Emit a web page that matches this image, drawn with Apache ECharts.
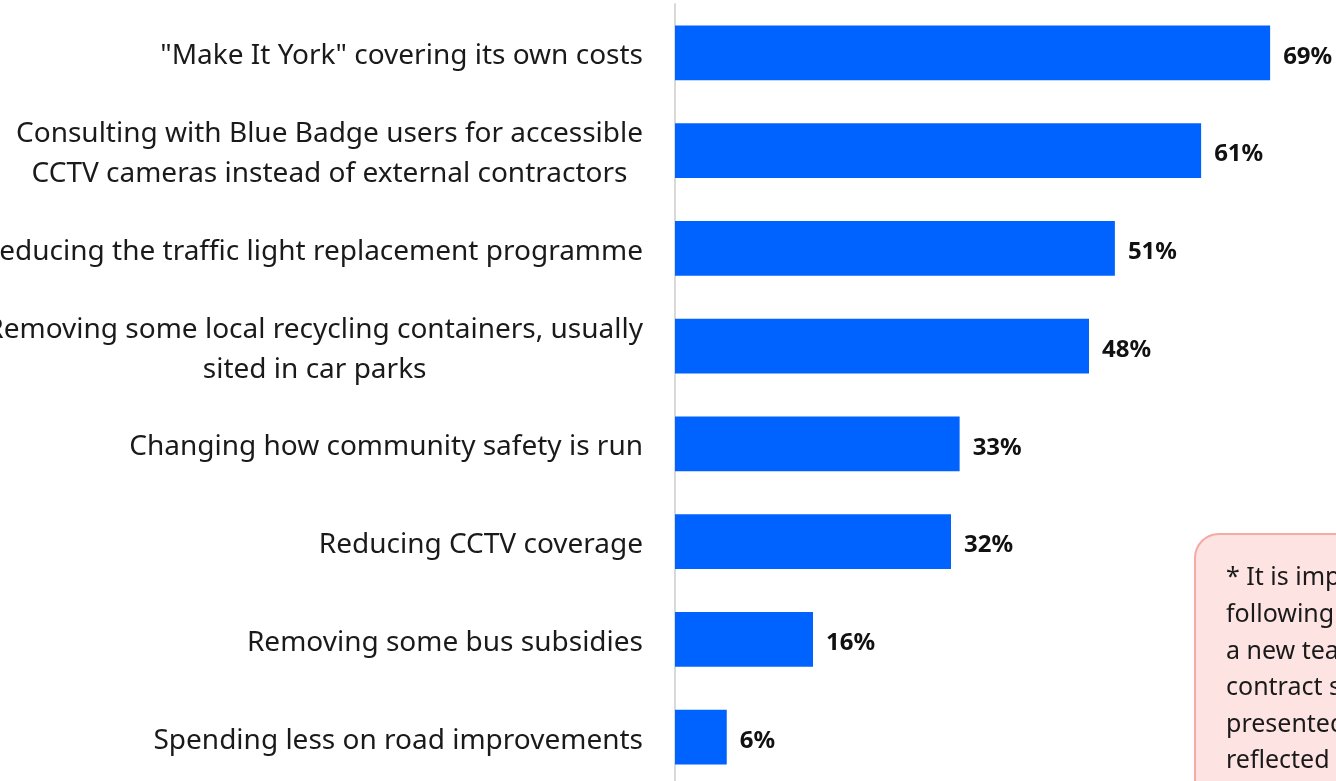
<!DOCTYPE html>
<html>
<head>
<meta charset="utf-8">
<script src="https://cdn.jsdelivr.net/npm/echarts@6/dist/echarts.min.js"></script>
<style>
  html, body { margin: 0; padding: 0; background: #ffffff; overflow: hidden; }
  #chart { width: 1400px; height: 800px; }
</style>
</head>
<body>
<div id="chart"></div>
<script>
// Savings options and the share of respondents supporting each one
const categories = [
  '"Make It York" covering its own costs',
  'Consulting with Blue Badge users for accessible\nCCTV cameras instead of external contractors',
  'Reducing the traffic light replacement programme',
  'Removing some local recycling containers, usually\nsited in car parks',
  'Changing how community safety is run',
  'Reducing CCTV coverage',
  'Removing some bus subsidies',
  'Spending less on road improvements'
];
const supportPct = [69, 61, 51, 48, 33, 32, 16, 6];

const noteLines = [
  '* It is important to note that,',
  'following the appointment of',
  'a new team, the CCTV',
  'contract savings were',
  'presented before this was',
  'reflected in the budget.'
];

const FONT = '"Noto Sans", "Open Sans", sans-serif';
const chart = echarts.init(document.getElementById('chart'));

chart.setOption({
  animation: false,
  grid: {
    left: 675, top: 4, width: 690, height: 782,
    containLabel: false,
    outerBoundsMode: 'none'
  },
  xAxis: {
    type: 'value', min: 0, max: 80,
    show: false
  },
  yAxis: {
    type: 'category',
    data: categories,
    inverse: true,
    axisLine: { show: true, lineStyle: { color: '#d9d9d9', width: 2 } },
    axisTick: { show: false },
    axisLabel: {
      margin: 32,
      padding: [7, 0, 0, 0],
      fontFamily: FONT,
      fontSize: 28,
      color: '#1a1a1a',
      lineHeight: 40,
      formatter: v => v.split('\n').map(s => '{c|' + s + '}').join('\n'),
      rich: { c: { align: 'center', fontFamily: FONT, fontSize: 28, lineHeight: 40, color: '#1a1a1a' } }
    }
  },
  series: [{
    type: 'bar',
    data: supportPct,
    barCategoryGap: '44%',
    itemStyle: { color: '#0062ff' },
    label: {
      show: true,
      position: 'right',
      distance: 13,
      offset: [0, 4],
      formatter: '{c}%',
      fontFamily: FONT,
      fontWeight: 'bold',
      fontSize: 24,
      color: '#111111'
    }
  }],
  graphic: [{
    type: 'group',
    left: 1194, top: 533,
    children: [{
      type: 'rect',
      shape: { x: 0, y: 0, width: 300, height: 300, r: 24 },
      style: { fill: '#fde4e2', stroke: '#f6aaa1', lineWidth: 2 }
    }, {
      type: 'text',
      x: 31, y: 26,
      style: {
        text: noteLines.join('\n'),
        font: '25px ' + FONT,
        lineHeight: 36.6,
        fill: '#1a1a1a'
      }
    }]
  }]
});
</script>
</body>
</html>
